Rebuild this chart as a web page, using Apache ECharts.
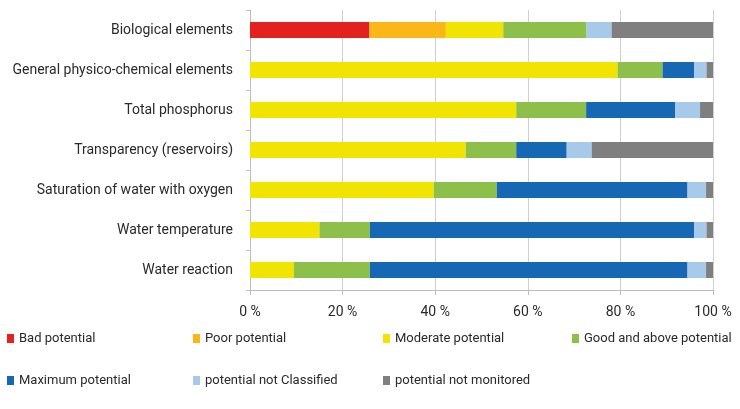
<!DOCTYPE html>
<html><head><meta charset="utf-8">
<script src="https://cdn.jsdelivr.net/npm/echarts@6/dist/echarts.min.js"></script>
<style>html,body{margin:0;padding:0;background:#fff}#c{width:740px;height:409px}</style>
</head><body><div id="c"></div>
<script>
const categories = ["Biological elements","General physico-chemical elements","Total phosphorus","Transparency (reservoirs)","Saturation of water with oxygen","Water temperature","Water reaction"];
const seriesNames = ["Bad potential","Poor potential","Moderate potential","Good and above potential","Maximum potential","potential not Classified","potential not monitored"];
const bad        = [25.8, 0, 0, 0, 0, 0, 0];
const poor       = [16.5, 0, 0, 0, 0, 0, 0];
const moderate   = [12.4, 79.4, 57.5, 46.6, 39.7, 15.0, 9.5];
const good       = [18.0, 9.7, 15.1, 10.9, 13.6, 10.9, 16.4];
const maximum    = [0, 6.8, 19.2, 10.9, 41.2, 70.0, 68.6];
const notClass   = [5.4, 2.7, 5.4, 5.4, 4.0, 2.7, 4.0];
const notMon     = [21.9, 1.4, 2.8, 26.2, 1.5, 1.4, 1.5];
const xTicks = [0, 20, 40, 60, 80, 100];

const values = [bad, poor, moderate, good, maximum, notClass, notMon];
const colors = ["#e3211f","#fbb617","#f0e400","#8dc04a","#1668b5","#a7c9ea","#7f7f7f"];
const legendPos = [[7,332],[193,332],[383,332],[572,332],[7,374],[193,374],[383,374]];
const font = "Roboto, 'Open Sans', sans-serif";

const chart = echarts.init(document.getElementById('c'), null, {renderer:'canvas'});
chart.setOption({
  animation:false,
  color: colors,
  grid:{left:250, right:27, top:10, bottom:119, containLabel:false},
  xAxis:{type:'value', min:xTicks[0], max:xTicks[xTicks.length-1], interval:20,
    axisLine:{show:true, lineStyle:{color:'#bdbdbd'}},
    axisTick:{show:true, length:5, lineStyle:{color:'#bdbdbd'}},
    splitLine:{show:true, lineStyle:{color:'#d0d0d0'}},
    axisLabel:{formatter:'{value} %', color:'#2a2a2a', fontSize:14, fontFamily:font, margin:15}},
  yAxis:{type:'category', data:categories, inverse:true,
    axisLine:{show:true, lineStyle:{color:'#bdbdbd'}},
    axisTick:{show:true, length:4, lineStyle:{color:'#bdbdbd'}},
    axisLabel:{color:'#2a2a2a', fontSize:14, fontFamily:font, margin:17}},
  legend: seriesNames.map((n,i)=>({data:[n], left:legendPos[i][0], top:legendPos[i][1],
    itemWidth:7, itemHeight:9, itemGap:5, icon:'rect', padding:0,
    textStyle:{color:'#2a2a2a', fontSize:13, fontFamily:font}})),
  series: seriesNames.map((n,i)=>({name:n, type:'bar', stack:'total', barWidth:16,
    data: values[i], itemStyle:{color:colors[i]}}))
});
</script></body></html>
